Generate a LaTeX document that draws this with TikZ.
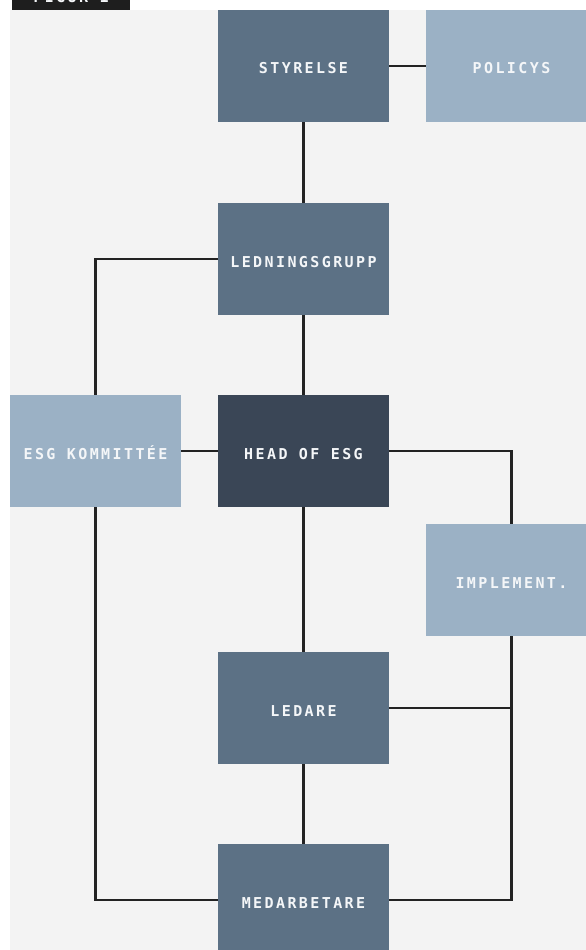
\documentclass[tikz,border=0pt]{standalone}
\usepackage{fontspec}
\newfontfamily\boxfont[LetterSpace=16]{DejaVu Sans Mono}
\definecolor{panel}{HTML}{F3F3F3}
\definecolor{mid}{HTML}{5C7185}
\definecolor{light}{HTML}{9BB1C5}
\definecolor{dark}{HTML}{3A4656}
\definecolor{ink}{HTML}{222222}
\definecolor{tab}{HTML}{1E1E1E}
\definecolor{txt}{HTML}{F4F6F8}
\tikzset{
  boxtext/.style={text=txt, font=\boxfont\bfseries\fontsize{15pt}{17pt}\selectfont},
  box/.style={boxtext, draw=none, minimum width=171pt, minimum height=112pt, inner sep=0pt,
    text height=16pt, text depth=0pt},
  midbox/.style={box, fill=mid},
  lightbox/.style={box, fill=light},
  darkbox/.style={box, fill=dark},
  conn/.style={draw=ink, line width=2.2pt},
}
\begin{document}
\begin{tikzpicture}[x=1pt,y=-1pt]
\useasboundingbox (0,0) rectangle (586,950);
\clip (0,0) rectangle (586,950);
\fill[white] (0,0) rectangle (586,950);
\fill[panel] (10,10) rectangle (586,950);
\fill[tab] (12,0) rectangle (130,10);
\node[anchor=base, boxtext] (figlabel) at (71,3) {FIGUR 1};

\node[midbox] (sty) at (303.5,66) {STYRELSE};
\node[lightbox] (pol) at (511.5,66) {POLICYS};
\node[midbox] (led) at (303.5,259) {LEDNINGSGRUPP};
\node[lightbox] (esg) at (95.5,451) {ESG KOMMITTÉE};
\node[darkbox] (head) at (303.5,451) {HEAD OF ESG};
\node[lightbox] (imp) at (511.5,580) {IMPLEMENT.};
\node[midbox] (ledare) at (303.5,708) {LEDARE};
\node[midbox] (med) at (303.5,900) {MEDARBETARE};

\coordinate (r1) at (511.5,451);
\coordinate (r2) at (511.5,708);
\coordinate (r3) at (511.5,900);
\coordinate (l1) at (95.5,259);
\coordinate (l2) at (95.5,900);

\draw[conn] (sty.east) -- (pol.west);
\draw[conn] (sty.south) -- (led.north);
\draw[conn] (led.west) -- (l1) -- (esg.north);
\draw[conn] (led.south) -- (head.north);
\draw[conn] (esg.east) -- (head.west);
\draw[conn] (head.east) -- (r1) -- (imp.north);
\draw[conn] (imp.south) -- (r3) -- (med.east);
\draw[conn] (ledare.east) -- (r2);
\draw[conn] (head.south) -- (ledare.north);
\draw[conn] (ledare.south) -- (med.north);
\draw[conn] (esg.south) -- (l2) -- (med.west);
\end{tikzpicture}
\end{document}
